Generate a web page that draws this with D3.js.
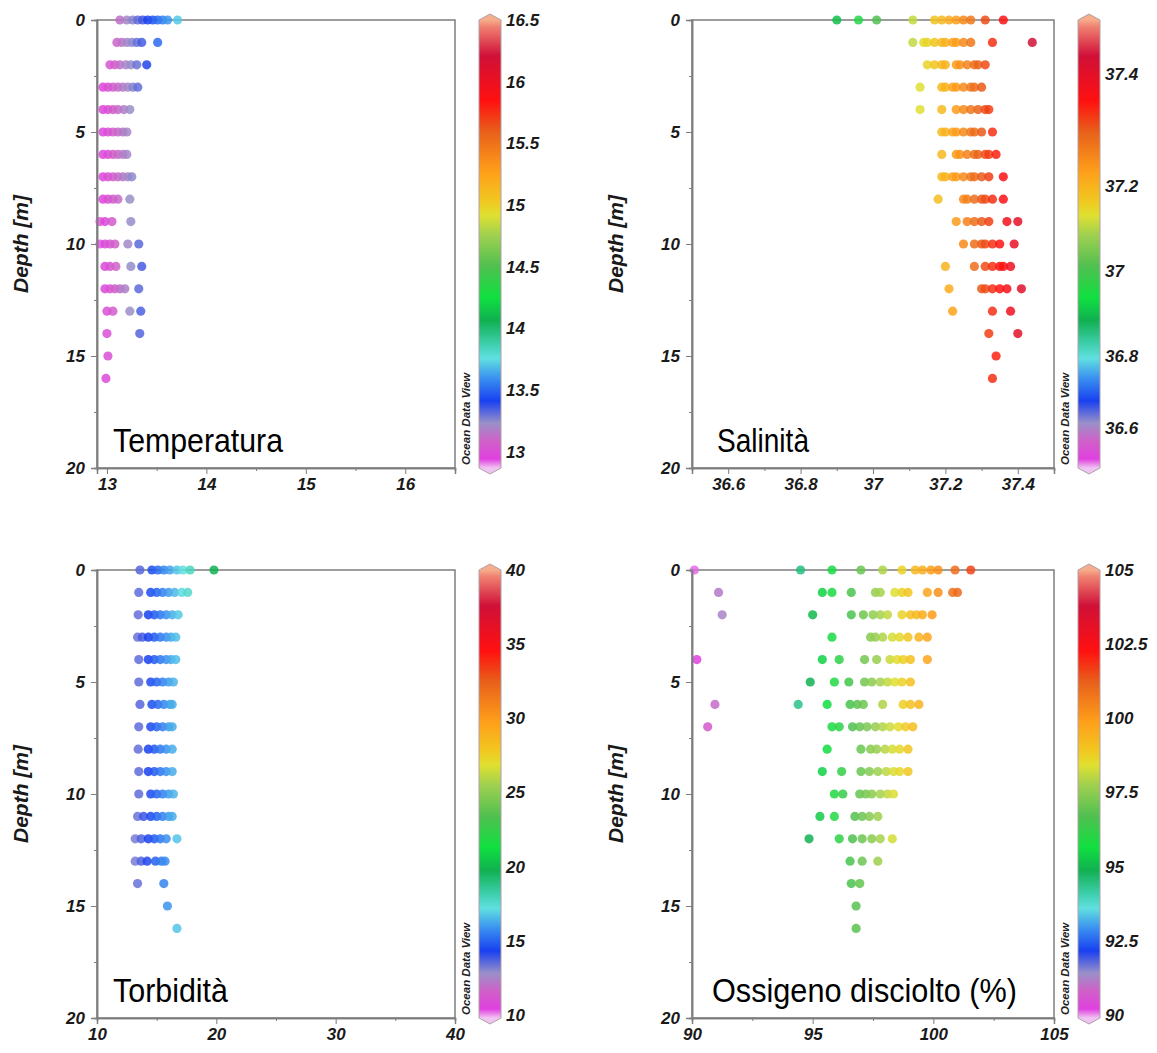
<!DOCTYPE html>
<html lang="it">
<head>
<meta charset="UTF-8">
<title>Profili verticali</title>
<style>
  body { margin: 0; background: #fff; }
  svg { display: block; }
  .tick text, .cb-label, .ylab { font-family: "Liberation Sans", Arial, sans-serif; font-weight: bold; font-style: italic; fill: #1a1a1a; }
  .odv { font-family: "Liberation Sans", Arial, sans-serif; font-weight: bold; font-style: italic; font-size: 11.5px; fill: #222; }
  .title { font-family: "Liberation Sans Narrow", "Liberation Sans", Arial, sans-serif; fill: #000; }
</style>
</head>
<body>
<svg id="chart" width="1157" height="1053"></svg>
<script src="https://d3js.org/d3.v7.min.js"></script>
<script>
// depth of each row of points (m)
const depths = [0, 1, 2, 3, 4, 5, 6, 7, 8, 9, 10, 11, 12, 13, 14, 15, 16]

// one list of readings per depth
const temperatura = [
  [13.13, 13.2, 13.26, 13.31, 13.36, 13.41, 13.46, 13.51, 13.56, 13.61, 13.71],
  [13.1, 13.15, 13.2, 13.25, 13.3, 13.35, 13.51],
  [13.03, 13.08, 13.13, 13.19, 13.24, 13.3, 13.4],
  [12.96, 13.01, 13.06, 13.11, 13.16, 13.21, 13.26, 13.31],
  [12.96, 13.01, 13.06, 13.11, 13.17, 13.23],
  [12.96, 13.01, 13.06, 13.11, 13.16, 13.2],
  [12.96, 13.01, 13.06, 13.11, 13.16, 13.2],
  [12.96, 13.01, 13.06, 13.11, 13.16, 13.21, 13.25],
  [12.96, 13.01, 13.06, 13.11, 13.23],
  [12.93, 12.98, 13.05, 13.24],
  [12.93, 12.98, 13.03, 13.08, 13.21, 13.32],
  [12.98, 13.03, 13.09, 13.24, 13.35],
  [12.98, 13.03, 13.08, 13.13, 13.18, 13.32],
  [13.0, 13.06, 13.23, 13.34],
  [13.0, 13.33],
  [13.01],
  [12.99]
]

const salinita = [
  [36.9, 36.96, 37.01, 37.11, 37.17, 37.19, 37.21, 37.23, 37.25, 37.27, 37.31, 37.36],
  [37.11, 37.14, 37.15, 37.17, 37.19, 37.2, 37.22, 37.23, 37.25, 37.27, 37.33, 37.44],
  [37.15, 37.17, 37.19, 37.2, 37.23, 37.24, 37.26, 37.28, 37.29, 37.31],
  [37.13, 37.19, 37.2, 37.22, 37.23, 37.25, 37.27, 37.28, 37.3],
  [37.13, 37.19, 37.23, 37.25, 37.27, 37.29, 37.31, 37.32],
  [37.19, 37.2, 37.22, 37.23, 37.25, 37.27, 37.28, 37.3, 37.33],
  [37.19, 37.23, 37.24, 37.26, 37.28, 37.29, 37.31, 37.32, 37.34],
  [37.19, 37.2, 37.22, 37.23, 37.25, 37.27, 37.28, 37.3, 37.32, 37.36],
  [37.18, 37.25, 37.26, 37.28, 37.3, 37.31, 37.33, 37.36],
  [37.23, 37.26, 37.28, 37.3, 37.32, 37.37, 37.4],
  [37.25, 37.28, 37.3, 37.31, 37.33, 37.35, 37.39],
  [37.2, 37.28, 37.31, 37.33, 37.35, 37.36, 37.38],
  [37.21, 37.3, 37.31, 37.33, 37.35, 37.37, 37.41],
  [37.22, 37.33, 37.38],
  [37.32, 37.4],
  [37.34],
  [37.33]
]

const torbidita = [
  [13.6, 14.6, 15.1, 15.6, 16.1, 16.7, 17.2, 17.8, 19.8],
  [13.5, 14.5, 15.0, 15.5, 16.0, 16.5, 17.1, 17.6],
  [13.45, 14.3, 14.8, 15.3, 15.8, 16.3, 16.8],
  [13.4, 13.8, 14.3, 14.8, 15.3, 15.8, 16.2, 16.6],
  [13.5, 14.3, 14.8, 15.3, 15.8, 16.2, 16.6],
  [13.5, 14.5, 15.0, 15.5, 16.0, 16.4],
  [13.6, 14.6, 15.1, 15.6, 16.1, 16.3],
  [13.5, 14.5, 15.0, 15.5, 16.0, 16.3],
  [13.45, 14.3, 14.8, 15.3, 15.8, 16.3],
  [13.5, 14.3, 14.8, 15.3, 15.8, 16.3],
  [13.5, 14.5, 15.0, 15.5, 16.0, 16.4],
  [13.4, 13.9, 14.5, 15.0, 15.5, 16.0, 16.3],
  [13.2, 13.7, 14.3, 14.8, 15.3, 15.8, 16.7],
  [13.2, 13.7, 14.2, 14.9, 15.4, 15.7],
  [13.4, 15.6],
  [15.9],
  [16.7]
]

const ossigeno = [
  [90.1, 94.5, 95.8, 97.0, 97.9, 98.7, 99.25, 99.55, 99.9, 100.2, 100.9, 101.55],
  [91.1, 95.4, 95.8, 96.6, 97.6, 97.8, 98.4, 98.7, 98.95, 99.75, 100.2, 100.8, 101.0],
  [91.25, 95.0, 96.6, 97.1, 97.5, 97.8, 98.1, 98.7, 99.05, 99.3, 99.55, 99.95],
  [95.8, 97.4, 97.6, 97.9, 98.3, 98.6, 98.95, 99.4, 99.75],
  [90.2, 95.4, 96.1, 97.15, 97.65, 98.2, 98.5, 98.75, 99.05, 99.75],
  [94.9, 95.9, 96.5, 97.15, 97.45, 97.8, 98.1, 98.4, 98.7, 99.05],
  [90.95, 94.4, 95.6, 96.55, 96.85, 97.1, 97.9, 98.75, 99.05, 99.4],
  [90.65, 95.8, 96.1, 96.65, 96.95, 97.25, 97.6, 97.9, 98.2, 98.55, 98.85, 99.15],
  [95.6, 97.0, 97.4, 97.65, 98.0, 98.3, 98.6, 98.95],
  [95.4, 96.2, 97.0, 97.35, 97.7, 98.05, 98.35, 98.6, 98.95],
  [95.9, 96.25, 96.95, 97.2, 97.45, 97.8, 98.1, 98.35],
  [95.3, 95.9, 96.75, 97.05, 97.35, 97.7],
  [94.85, 96.1, 96.65, 97.05, 97.45, 97.8, 98.3],
  [96.55, 97.05, 97.7],
  [96.6, 96.95],
  [96.8],
  [96.8]
]

// axis ticks
const depthTicks = [0, 5, 10, 15, 20]
const tempTicks = [13, 14, 15, 16]
const salTicks = [36.6, 36.8, 37, 37.2, 37.4]
const torbTicks = [10, 20, 30, 40]
const oxyTicks = [90, 95, 100, 105]

// colour bar labels
const tempBarLabels = [13, 13.5, 14, 14.5, 15, 15.5, 16, 16.5]
const salBarLabels = [36.6, 36.8, 37, 37.2, 37.4]
const torbBarLabels = [10, 15, 20, 25, 30, 35, 40]
const oxyBarLabels = [90, 92.5, 95, 97.5, 100, 102.5, 105]

// ODV-like rainbow, position 0 = bottom of bar, 1 = top
const rampPos = [0, 0.02, 0.06, 0.10, 0.15, 0.20, 0.245, 0.275, 0.33, 0.38, 0.45, 0.52, 0.565, 0.595, 0.66, 0.75, 0.82, 0.92, 0.985, 1]
const rampCol = ['#f0c4f2', '#e040e0', '#d060c8', '#9a90c8', '#1840f0', '#3a90f0', '#60e0e0', '#40d0b0', '#10b050', '#10e040', '#50c050', '#a0d050', '#e0e030', '#f0c820', '#ffa01a', '#e8601a', '#ff1010', '#d01038', '#f08070', '#f6ad8c']
const ramp = d3.scaleLinear().domain(rampPos).range(rampCol).interpolate(d3.interpolateRgb).clamp(true)

const svg = d3.select('#chart')
const defs = svg.append('defs')

const colLeft = [97, 455]
const colRight = [692, 1054]
const rowTop = [20, 468]
const rowBottom = [570, 1018]

const panels = [
  { rows: temperatura, xr: colLeft, yr: rowTop,
    xDomain: [12.9, 16.5], ticks: tempTicks, minor: [13.5, 14.5, 15.5, 16.5],
    cDomain: [12.87, 16.5], cRange: [0, 1], bar: tempBarLabels, title: 'Temperatura', tw: 170, tx: 113 },
  { rows: salinita, xr: colRight, yr: rowTop,
    xDomain: [36.5, 37.5], ticks: salTicks, minor: [36.5, 36.7, 36.9, 37.1, 37.3, 37.5],
    cDomain: [36.5, 36.6, 36.8, 37, 37.2, 37.4, 37.52], cRange: [0, 0.09, 0.25, 0.44, 0.63, 0.88, 1],
    bar: salBarLabels, title: 'Salinità', tw: 92, tx: 717 },
  { rows: torbidita, xr: colLeft, yr: rowBottom,
    xDomain: [10, 40], ticks: torbTicks, minor: [15, 25, 35],
    cDomain: [10, 40], cRange: [0.007, 1], bar: torbBarLabels, title: 'Torbidità', tw: 115, tx: 113 },
  { rows: ossigeno, xr: colRight, yr: rowBottom,
    xDomain: [90, 105], ticks: oxyTicks, minor: [92.5, 97.5, 102.5],
    cDomain: [90, 105], cRange: [0.007, 1], bar: oxyBarLabels, title: 'Ossigeno disciolto (%)', tw: 305, tx: 712 }
]

const axisGrey = '#7d7d7d'

panels.forEach((p, i) => {
  const x = d3.scaleLinear().domain(p.xDomain).range(p.xr)
  const y = d3.scaleLinear().domain([0, 20]).range(p.yr)
  const cPos = d3.scaleLinear().domain(p.cDomain).range(p.cRange).clamp(true)
  const colour = v => ramp(cPos(v))

  const g = svg.append('g')

  // frame
  g.append('rect')
    .attr('x', p.xr[0]).attr('y', p.yr[0])
    .attr('width', p.xr[1] - p.xr[0]).attr('height', p.yr[1] - p.yr[0])
    .attr('fill', 'none').attr('stroke', axisGrey).attr('stroke-width', 1.5)

  // points
  const pts = p.rows.flatMap((vals, k) => vals.map(v => ({ depth: depths[k], v })))
  g.append('g').selectAll('circle')
    .data(pts)
    .join('circle')
    .attr('cx', d => x(d.v))
    .attr('cy', d => y(d.depth))
    .attr('r', 4.6)
    .attr('fill', d => colour(d.v))
    .attr('fill-opacity', 0.85)

  // bottom axis
  g.append('g').attr('transform', `translate(0,${p.yr[1]})`)
    .call(d3.axisBottom(x).tickValues(p.ticks).tickFormat(d => String(d)).tickSize(6).tickPadding(4))
  g.append('g').attr('transform', `translate(0,${p.yr[1]})`)
    .call(d3.axisBottom(x).tickValues(p.minor).tickFormat('').tickSize(3))

  // left axis
  g.append('g').attr('transform', `translate(${p.xr[0]},0)`)
    .call(d3.axisLeft(y).tickValues(depthTicks).tickSize(6).tickPadding(6))
  g.append('g').attr('transform', `translate(${p.xr[0]},0)`)
    .call(d3.axisLeft(y).tickValues([2.5, 7.5, 12.5, 17.5]).tickFormat('').tickSize(3))

  g.selectAll('.domain').attr('stroke', axisGrey).attr('stroke-width', 1.5)
  g.selectAll('.tick line').attr('stroke', axisGrey)
  g.selectAll('.tick text').style('font-size', '17px')

  // depth label
  svg.append('text')
    .attr('class', 'ylab')
    .attr('transform', `translate(${p.xr[0] - 69},${(p.yr[0] + p.yr[1]) / 2}) rotate(-90)`)
    .attr('text-anchor', 'middle')
    .style('font-size', '21px')
    .text('Depth [m]')

  // panel title
  svg.append('text')
    .attr('class', 'title')
    .attr('x', p.tx).attr('y', p.yr[1] - 16)
    .attr('textLength', p.tw).attr('lengthAdjust', 'spacingAndGlyphs')
    .style('font-size', '33px')
    .text(p.title)

  // colour bar
  const bx = p.xr[1] + 24
  const bw = 22
  const top = p.yr[0], bot = p.yr[1]
  const gid = 'grad' + i
  const grad = defs.append('linearGradient')
    .attr('id', gid).attr('gradientUnits', 'userSpaceOnUse')
    .attr('x1', 0).attr('x2', 0).attr('y1', bot).attr('y2', top)
  rampPos.forEach((f, k) => grad.append('stop').attr('offset', f).attr('stop-color', rampCol[k]))

  const barPath = d3.path()
  barPath.moveTo(bx, top)
  barPath.lineTo(bx + bw / 2, top - 6)
  barPath.lineTo(bx + bw, top)
  barPath.lineTo(bx + bw, bot)
  barPath.lineTo(bx + bw / 2, bot + 6)
  barPath.lineTo(bx, bot)
  barPath.closePath()
  svg.append('path')
    .attr('d', barPath.toString())
    .attr('fill', `url(#${gid})`)
    .attr('stroke', '#b0a0a8').attr('stroke-width', 1)

  const fy = d3.scaleLinear().domain([0, 1]).range([bot, top])
  svg.append('g').selectAll('text')
    .data(p.bar)
    .join('text')
    .attr('class', 'cb-label')
    .attr('x', bx + bw + 5)
    .attr('y', d => fy(cPos(d)))
    .attr('dy', '0.35em')
    .style('font-size', '17px')
    .text(d => String(d))

  svg.append('text')
    .attr('class', 'odv')
    .attr('transform', `translate(${p.xr[1] + 15},${bot - 3}) rotate(-90)`)
    .text('Ocean Data View')
})
</script>
</body>
</html>
